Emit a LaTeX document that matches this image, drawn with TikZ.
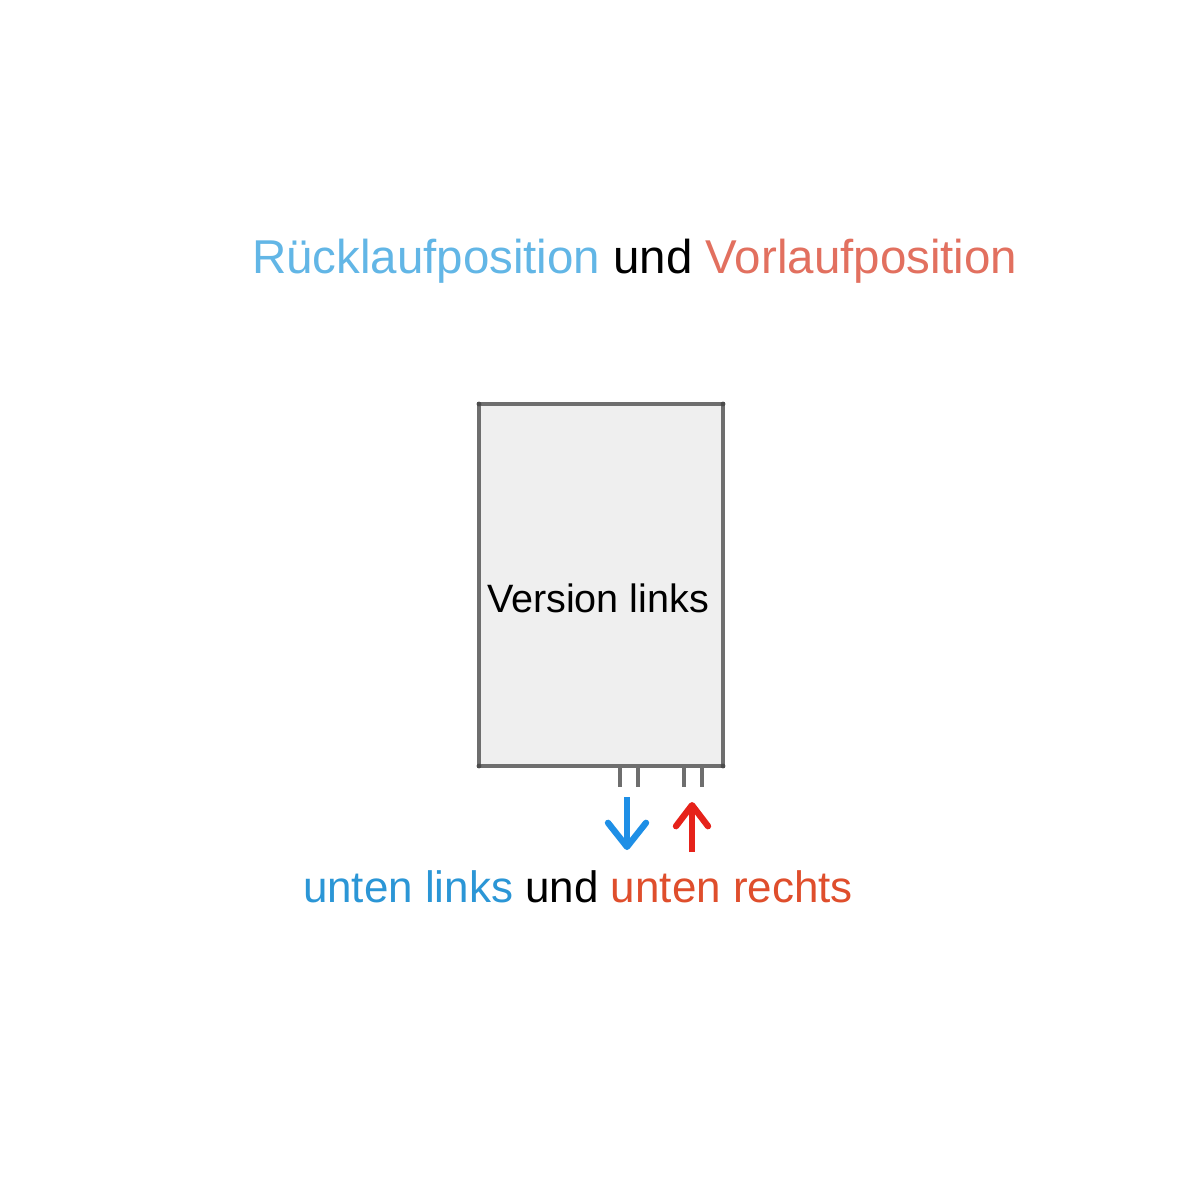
\documentclass[tikz,border=0pt]{standalone}
\usepackage{fontspec}
\setmainfont{Liberation Sans}
\usetikzlibrary{arrows.meta}
\definecolor{titleblue}{HTML}{62B6E6}
\definecolor{titlered}{HTML}{E2705F}
\definecolor{lowblue}{HTML}{2B96D6}
\definecolor{lowred}{HTML}{DF4E2C}
\definecolor{arrblue}{HTML}{1E8FE6}
\definecolor{arrred}{HTML}{E6221A}
\definecolor{boxfill}{HTML}{EFEFEF}
\definecolor{boxline}{HTML}{6E6E6E}
\tikzset{
  txt/.style={anchor=base west, inner sep=0pt, outer sep=0pt},
  stub/.style={draw=boxline, line width=1.25pt},
  flowarrow/.style={line width=1.8pt},
}
\begin{document}
\begin{tikzpicture}[x=0.01cm, y=-0.01cm]
\useasboundingbox[fill=white] (0,0) rectangle (1200,1200);
% title
\node[txt, font=\fontsize{13.5pt}{16pt}\selectfont] (title) at (252,273)
  {\textcolor{titleblue}{Rücklaufposition} und \textcolor{titlered}{Vorlaufposition}};
% box
\node[draw=boxline, fill=boxfill, line width=0.9pt, minimum width=244*0.01cm, minimum height=362*0.01cm,
  inner sep=0pt, outer sep=0pt, anchor=north west] (box) at (479,404) {};
\draw[boxline, line width=1.4pt] (box.north west) -- (box.north east);
\draw[boxline, line width=1.4pt] (box.south west) -- (box.south east);
\foreach \c in {north west, north east, south west, south east}
  \fill[black!70] (box.\c) circle (2.4);
\node[txt, font=\fontsize{11.25pt}{14pt}\selectfont] (label) at (487,612) {Version links};
% stubs
\coordinate (s1a) at (620,767); \coordinate (s1b) at (620,787);
\coordinate (s2a) at (638,767); \coordinate (s2b) at (638,787);
\coordinate (s3a) at (684,767); \coordinate (s3b) at (684,787);
\coordinate (s4a) at (702,767); \coordinate (s4b) at (702,787);
\draw[stub] (s1a) -- (s1b);
\draw[stub] (s2a) -- (s2b);
\draw[stub] (s3a) -- (s3b);
\draw[stub] (s4a) -- (s4b);
% arrows
\coordinate (bstart) at (627,797); \coordinate (bend) at (627,850);
\coordinate (rstart) at (692,852); \coordinate (rend) at (692,802);
\draw[arrblue, flowarrow, -{Straight Barb[length=0.24cm, width=0.38cm, round]}] (bstart) -- (bend);
\draw[arrred, flowarrow, -{Straight Barb[length=0.21cm, width=0.32cm, round]}] (rstart) -- (rend);
% bottom caption
\node[txt, font=\fontsize{12.5pt}{15pt}\selectfont] (caption) at (303,902)
  {\textcolor{lowblue}{unten links} und \textcolor{lowred}{unten rechts}};
\end{tikzpicture}
\end{document}
